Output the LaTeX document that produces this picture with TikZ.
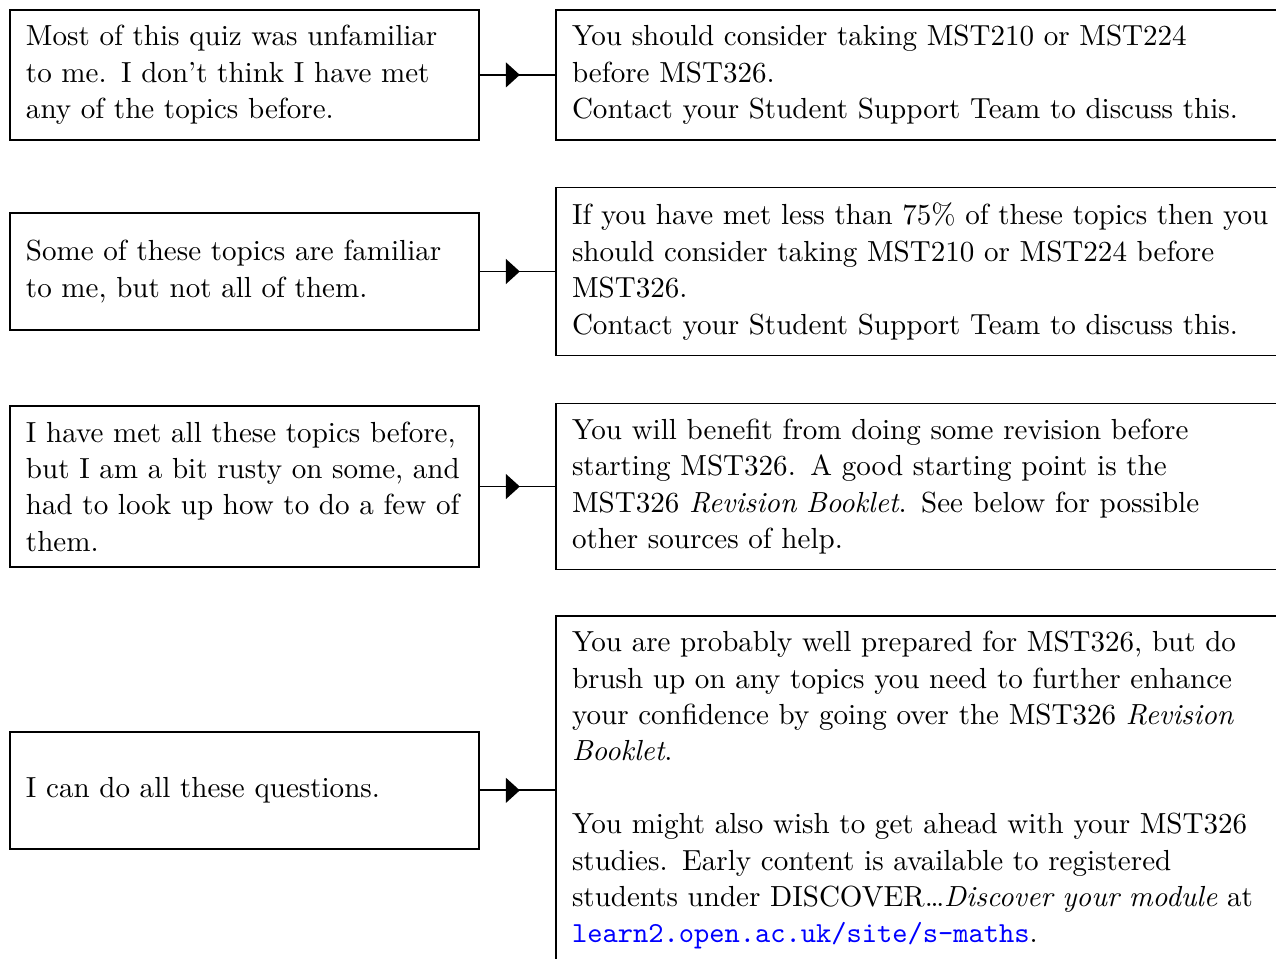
\documentclass[tikz,border=0pt]{standalone}
\usepackage{fontspec}
\usetikzlibrary{positioning,arrows.meta,decorations.markings}
\begin{document}
\begin{tikzpicture}[
		x=1pt,y=1pt,
		box/.style={draw,line width=0.6pt,outer sep=0pt,inner xsep=5.3pt,inner ysep=0pt,align=left,
				font=\fontsize{9.62pt}{12.05pt}\selectfont},
		quizbox/.style={box,text width=144.7pt},
		advicebox/.style={box,text width=240pt},
		midarrow/.style={line width=0.6pt,postaction={decorate},
				decoration={markings,mark=at position 0.53 with {\arrow{Triangle[length=4.6pt,width=8.2pt]}}}}
	]
	\useasboundingbox (0,0) rectangle (422.5,-317.5);
	% what the student thinks of the quiz
	\node[quizbox,anchor=west,minimum height=43pt] (q1) at (3.3,-24.8)
		{Most of this quiz was unfamiliar\\to me.  I don't think I have met\\any of the topics before.};
	\node[quizbox,anchor=west,minimum height=38.7pt] (q2) at (3.3,-89.9)
		{Some of these topics are familiar\\to me, but not all of them.};
	\node[quizbox,anchor=west,minimum height=53.3pt] (q3) at (3.3,-161.1)
		{I have met all these topics before,\\but I am a bit rusty on some, and\\had to look up how to do a few of\\them.};
	\node[quizbox,anchor=west,minimum height=38.7pt] (q4) at (3.3,-261.7)
		{I can do all these questions.};
	% advice
	\node[advicebox,right=25.5pt of q1,minimum height=43pt] (a1)
		{You should consider taking MST210 or MST224\\before MST326.\\Contact your Student Support Team to discuss this.};
	\node[advicebox,right=25.5pt of q2,minimum height=55.6pt] (a2)
		{If you have met less than 75\% of these topics then you\\should consider taking MST210 or MST224 before\\MST326.\\Contact your Student Support Team to discuss this.};
	\node[advicebox,right=25.5pt of q3,minimum height=55pt] (a3)
		{You will benefit from doing some revision before\\starting MST326.  A good starting point is the\\MST326 \emph{Revision Booklet}.  See below for possible\\other sources of help.};
	\node[advicebox,right=25.5pt of q4,minimum height=115.2pt] (a4)
		{You are probably well prepared for MST326, but do\\brush up on any topics you need to further enhance\\your confidence by going over the MST326 \emph{Revision}\\\emph{Booklet}.\\[12.05pt]You might also wish to get ahead with your MST326\\studies.  Early content is available to registered\\students under DISCOVER\ldots\emph{Discover your module} at\\\textcolor{blue}{\texttt{learn2.open.ac.uk/site/s-maths}}.};
	\foreach \i in {1,...,4}
		\draw[midarrow] (q\i) -- (a\i);
\end{tikzpicture}
\end{document}
